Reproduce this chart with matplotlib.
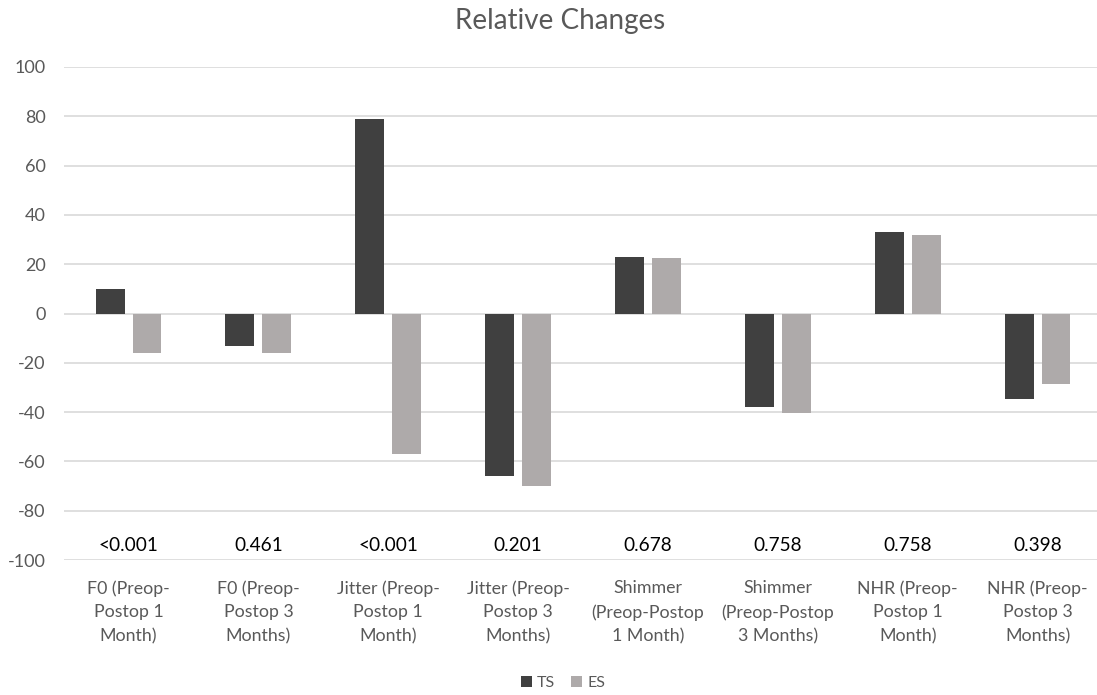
import matplotlib
matplotlib.use("Agg")
import matplotlib.pyplot as plt
import numpy as np

categories = [
    "F0 (Preop-\nPostop 1\nMonth)",
    "F0 (Preop-\nPostop 3\nMonths)",
    "Jitter (Preop-\nPostop 1\nMonth)",
    "Jitter (Preop-\nPostop 3\nMonths)",
    "Shimmer\n(Preop-Postop\n1 Month)",
    "Shimmer\n(Preop-Postop\n3 Months)",
    "NHR (Preop-\nPostop 1\nMonth)",
    "NHR (Preop-\nPostop 3\nMonths)",
]
ts_values = [10, -13, 79, -66, 23, -38, 33, -34.5]
es_values = [-16, -16, -57, -70, 22.5, -40.5, 32, -28.5]
p_values = ["<0.001", "0.461", "<0.001", "0.201", "0.678", "0.758", "0.758", "0.398"]
y_ticks = [-100, -80, -60, -40, -20, 0, 20, 40, 60, 80, 100]

plt.rcParams["font.family"] = ["Lato", "DejaVu Sans"]

fig = plt.figure(figsize=(10.97, 6.95), dpi=100)
ax = fig.add_axes([0.058, 0.1942, 0.947, 0.7094])

x = np.arange(len(categories))
bar_w = 0.223
off = 0.142
ax.bar(x - off, ts_values, width=bar_w, color="#404040", label="TS", zorder=3)
ax.bar(x + off, es_values, width=bar_w, color="#AEAAAA", label="ES", zorder=3)

ax.set_xlim(-0.5, len(categories) - 0.5)
ax.set_ylim(-100, 100)
ax.set_yticks(y_ticks)
ax.set_yticklabels([str(v) for v in y_ticks])
ax.yaxis.grid(True, color="#D9D9D9", linewidth=1.2, zorder=0)
ax.set_axisbelow(True)
for s in ax.spines.values():
    s.set_visible(False)
ax.tick_params(axis="y", length=0, pad=13, labelsize=13, labelcolor="#595959")
ax.tick_params(axis="x", length=0, pad=14.5, labelsize=12.75, labelcolor="#595959")
ax.set_xticks(x)
ax.set_xticklabels(categories, linespacing=1.58)

# p-values shown just above the bottom gridline
for xi, p in zip(x, p_values):
    ax.text(xi, -94, p, ha="center", va="center", fontsize=13.7, color="black")

fig.text(0.5105, 1 - 21 / 695, "Relative Changes", ha="center", va="center",
         fontsize=20, color="#595959")

fig.legend(loc="center", bbox_to_anchor=(563 / 1097, 1 - 683 / 695), ncol=2,
           frameon=False, fontsize=11.5, handlelength=0.7, handleheight=0.7,
           handletextpad=0.3, columnspacing=1.0, labelcolor="#595959")

fig.savefig("out.png", dpi=100)
